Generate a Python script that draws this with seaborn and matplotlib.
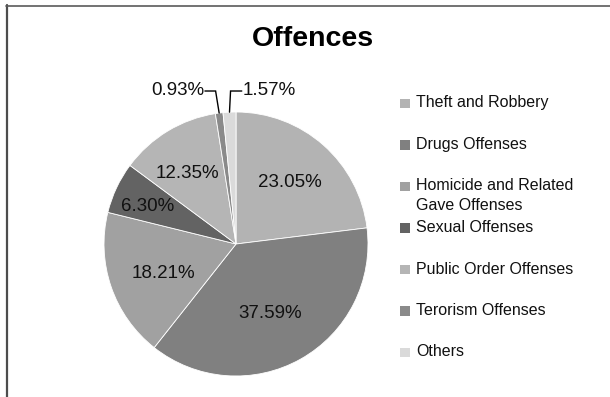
import matplotlib
matplotlib.use("Agg")
import numpy as np
import matplotlib.pyplot as plt
from matplotlib.lines import Line2D
from matplotlib.patches import Rectangle
import seaborn as sns

# Data
categories = [
    "Theft and Robbery",
    "Drugs Offenses",
    "Homicide and Related\nGave Offenses",
    "Sexual Offenses",
    "Public Order Offenses",
    "Terorism Offenses",
    "Others",
]
shares = [23.05, 37.59, 18.21, 6.30, 12.35, 0.93, 1.57]
colors = ["#b3b3b3", "#808080", "#a1a1a1", "#636363", "#b5b5b5", "#8a8a8a", "#dadada"]

sns.set_theme(style="white")
plt.rcParams["font.family"] = ["Liberation Sans", "DejaVu Sans"]

W, H = 610, 397
fig = plt.figure(figsize=(W / 100, H / 100), dpi=100)
fig.patch.set_facecolor("white")

# Pie axes (square, centred on the pie)
cx, cy, r = 236, 244, 132
lim = 1.05
half = r * lim
ax = fig.add_axes([(cx - half) / W, (H - cy - half) / H, 2 * half / W, 2 * half / H])
wedges, _ = ax.pie(
    shares, colors=colors, startangle=90, counterclock=False, radius=1,
    wedgeprops=dict(edgecolor="white", linewidth=0.6),
)
ax.set_xlim(-lim, lim)
ax.set_ylim(-lim, lim)
ax.set_aspect("equal")
ax.axis("off")

# In-slice percentage labels: radial distance and small angular nudge per slice
label_dist = [0.62, 0.59, 0.59, 0.73, 0.65]
label_nudge = [0.4, -3.2, 3.1, 2.1, 3.4]
for i, (w, v) in enumerate(zip(wedges, shares)):
    mid = np.deg2rad((w.theta1 + w.theta2) / 2)
    if i < len(label_dist):
        a = mid + np.deg2rad(label_nudge[i])
        d = label_dist[i]
        ax.text(d * np.cos(a), d * np.sin(a), f"{v:.2f}%", ha="center", va="center",
                fontsize=13.5, color="#111111")
    else:
        # small slices: label above the pie with an elbow leader line
        ex, ey = np.cos(mid), np.sin(mid)
        ly = 1.159
        if ex < -0.08:
            kx = ex - 0.027
            tx = kx - 0.081
            ha = "right"
        else:
            kx = ex + 0.008
            tx = kx + 0.085
            ha = "left"
        ax.add_line(Line2D([tx, kx, ex], [ly, ly, ey], color="black", lw=1.0,
                           clip_on=False, solid_joinstyle="miter"))
        ax.text(tx + (-0.005 if ha == "right" else 0.005), ly + 0.006, f"{v:.2f}%",
                ha=ha, va="center", fontsize=13.5, color="#111111", clip_on=False)

# Title
fig.text(313 / W, 1 - 39 / H, "Offences", ha="center", va="center",
         fontsize=20.5, fontweight="bold", color="black")

# Legend drawn as keys + labels in figure pixels
key_x, key_w, key_h = 400, 10.5, 9.5
text_x = 416
row0, row_step, line_h = 103.5, 41.5, 19
for i, (lab, col) in enumerate(zip(categories, colors)):
    yc = row0 + i * row_step
    fig.patches.append(Rectangle((key_x / W, 1 - (yc + key_h / 2) / H), key_w / W, key_h / H,
                                 transform=fig.transFigure, facecolor=col, edgecolor="none"))
    for j, line in enumerate(lab.split("\n")):
        fig.text(text_x / W, 1 - (yc + 4.0 + j * line_h) / H, line, ha="left", va="baseline",
                 fontsize=11.5, color="#111111")

# Chart-area frame (left and top edges)
fig.add_artist(Line2D([6.5 / W, 6.5 / W], [0, 1 - 5 / H], transform=fig.transFigure,
                      color="#4d4d4d", lw=1.6))
fig.add_artist(Line2D([6 / W, 1], [1 - 5.5 / H, 1 - 5.5 / H], transform=fig.transFigure,
                      color="#5a5a5a", lw=1.2))

fig.savefig("out.png", dpi=100, facecolor="white")
